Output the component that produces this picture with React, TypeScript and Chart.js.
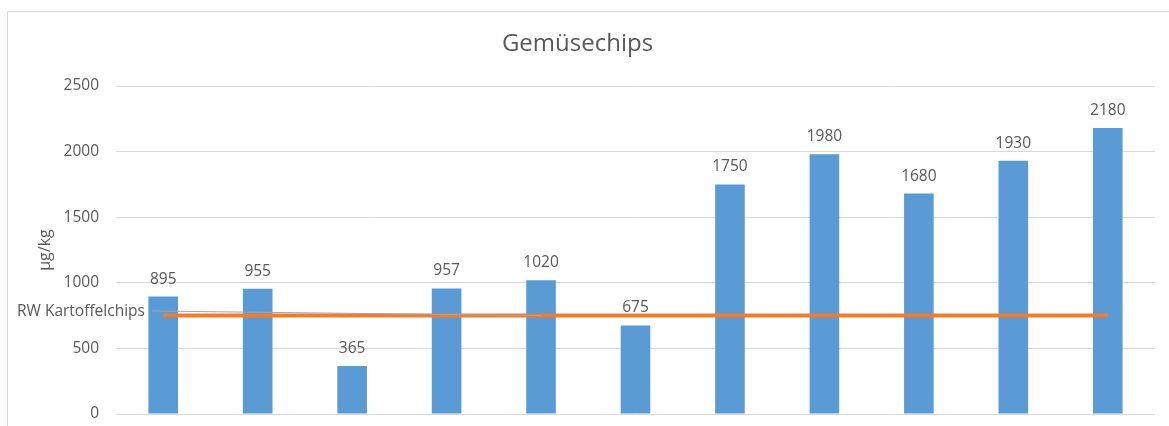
import React, { useEffect, useRef } from "react";
import { Chart, registerables } from "chart.js";

Chart.register(...registerables);

// ---- data ----
const categories = ["1", "2", "3", "4", "5", "6", "7", "8", "9", "10", "11"];
const values = [895, 955, 365, 957, 1020, 675, 1750, 1980, 1680, 1930, 2180];
const referenceValues = [750, 750, 750, 750, 750, 750, 750, 750, 750, 750, 750];
const referenceLabel = "RW Kartoffelchips";
const referenceLabelIndex = 4;
const yTicks = [0, 500, 1000, 1500, 2000, 2500];
const chartTitle = "Gemüsechips";
const yAxisTitle = "µg/kg";

const FONT = "'Open Sans', 'Liberation Sans', sans-serif";
const TEXT = "#595959";
const GRID = "#D9D9D9";

const framePlugin = {
  id: "frame",
  beforeDraw(chart: any) {
    const { ctx } = chart;
    ctx.save();
    ctx.strokeStyle = GRID;
    ctx.lineWidth = 1;
    ctx.beginPath();
    ctx.moveTo(7.5, chart.height);
    ctx.lineTo(7.5, 11.5);
    ctx.lineTo(chart.width, 11.5);
    ctx.stroke();
    ctx.restore();
  },
};

const valueLabelPlugin = {
  id: "valueLabels",
  afterDatasetsDraw(chart: any) {
    const { ctx } = chart;
    const meta = chart.getDatasetMeta(1);
    ctx.save();
    ctx.fillStyle = TEXT;
    ctx.font = `15.5px ${FONT}`;
    ctx.textAlign = "center";
    ctx.textBaseline = "alphabetic";
    meta.data.forEach((el: any, i: number) => {
      ctx.fillText(String(values[i]), el.x, el.y - 13);
    });
    ctx.restore();
  },
};

const calloutPlugin = {
  id: "callout",
  afterDatasetsDraw(chart: any) {
    const { ctx, scales } = chart;
    const tx = 17;
    const ty = 316;
    ctx.save();
    ctx.font = `15.5px ${FONT}`;
    ctx.fillStyle = TEXT;
    ctx.textAlign = "left";
    ctx.textBaseline = "alphabetic";
    ctx.fillText(referenceLabel, tx, ty);
    const w = ctx.measureText(referenceLabel).width;
    const px = scales.x.getPixelForValue(referenceLabelIndex);
    const py = scales.y.getPixelForValue(referenceValues[referenceLabelIndex]);
    ctx.strokeStyle = "#A6A6A6";
    ctx.lineWidth = 1;
    ctx.beginPath();
    ctx.moveTo(tx + w + 7, ty - 5);
    ctx.lineTo(px, py);
    ctx.stroke();
    ctx.restore();
  },
};

export default function App() {
  const ref = useRef<HTMLCanvasElement | null>(null);

  useEffect(() => {
    if (!ref.current) return;
    Chart.defaults.font.family = FONT;
    const chart = new Chart(ref.current, {
      type: "bar",
      data: {
        labels: categories,
        datasets: [
          {
            type: "line",
            label: referenceLabel,
            data: referenceValues,
            borderColor: "#ED7D31",
            backgroundColor: "#ED7D31",
            borderWidth: 4,
            pointRadius: 0,
            order: 0,
          } as any,
          {
            type: "bar",
            label: chartTitle,
            data: values,
            backgroundColor: "#5B9BD5",
            borderWidth: 0,
            categoryPercentage: 1,
            barPercentage: 0.3135,
            order: 1,
          },
        ],
      },
      options: {
        responsive: false,
        animation: false,
        layout: { padding: { left: 0, right: 14, top: 0, bottom: 12 } },
        plugins: {
          legend: { display: false },
          tooltip: { enabled: false },
          title: {
            display: true,
            text: chartTitle,
            color: TEXT,
            font: { family: FONT, size: 24, weight: "normal" },
            padding: { top: 29.6, bottom: 27.6 },
          },
        },
        scales: {
          x: { display: false },
          y: {
            min: yTicks[0],
            max: yTicks[yTicks.length - 1],
            afterFit: (scale: any) => {
              scale.width = 116;
              scale.paddingTop = 0;
              scale.paddingBottom = 0;
            },
            afterBuildTicks: (scale: any) => {
              scale.ticks = yTicks.map((v) => ({ value: v }));
            },
            border: { display: false },
            grid: { color: GRID, lineWidth: 1, drawTicks: false },
            ticks: {
              color: TEXT,
              padding: 17,
              font: { family: FONT, size: 15.5 },
              callback: (v: any) => String(v),
            },
            title: {
              display: true,
              text: yAxisTitle,
              color: TEXT,
              font: { family: FONT, size: 16 },
              padding: { top: 35.4, bottom: 0 },
            },
          },
        },
      },
      plugins: [framePlugin, valueLabelPlugin, calloutPlugin],
    } as any);
    return () => chart.destroy();
  }, []);

  return (
    <canvas
      ref={ref}
      width={1169}
      height={426}
      style={{ position: "absolute", left: 0, top: 0, width: 1169, height: 426 }}
    />
  );
}
